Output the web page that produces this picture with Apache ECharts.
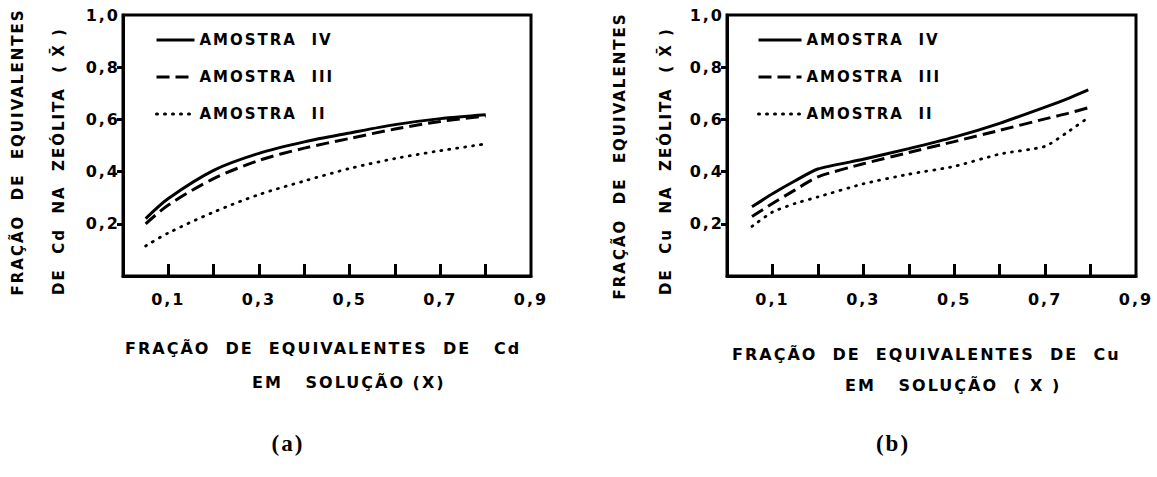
<!DOCTYPE html>
<html>
<head>
<meta charset="utf-8">
<script src="https://cdn.jsdelivr.net/npm/echarts@6/dist/echarts.min.js"></script>
<style>
  html, body { margin: 0; padding: 0; background: #fff; }
  #chart { width: 1157px; height: 477px; }
  #chart text { letter-spacing: 2px; }
</style>
</head>
<body>
<div id="chart"></div>
<script>
// ---------- data ----------
const seriesNames = ['AMOSTRA  IV', 'AMOSTRA  III', 'AMOSTRA  II'];

// (a) Cd
const cdX   = [0.05, 0.10, 0.20, 0.30, 0.40, 0.50, 0.60, 0.70, 0.80];
const cdIV  = [0.220, 0.297, 0.405, 0.470, 0.514, 0.548, 0.580, 0.603, 0.618];
const cdIII = [0.200, 0.272, 0.373, 0.443, 0.490, 0.527, 0.563, 0.592, 0.613];
const cdII  = [0.115, 0.165, 0.245, 0.312, 0.364, 0.412, 0.450, 0.480, 0.506];

// (b) Cu
const cuX   = [0.055, 0.10, 0.15, 0.20, 0.30, 0.40, 0.50, 0.60, 0.70, 0.75, 0.795];
const cuIV  = [0.265, 0.315, 0.365, 0.410, 0.447, 0.488, 0.532, 0.585, 0.647, 0.680, 0.713];
const cuIII = [0.228, 0.278, 0.330, 0.380, 0.430, 0.473, 0.515, 0.558, 0.602, 0.623, 0.645];
const cuII  = [0.190, 0.245, 0.278, 0.303, 0.353, 0.390, 0.420, 0.467, 0.497, 0.552, 0.607];

const xTickValues  = [0.1, 0.2, 0.3, 0.4, 0.5, 0.6, 0.7, 0.8];
const xLabelValues = [0.1, 0.3, 0.5, 0.7, 0.9];
const yTickValues  = [0.2, 0.4, 0.6, 0.8];
const yLabelValues = [0.2, 0.4, 0.6, 0.8, 1.0];

const yTitleA1 = 'FRAÇÃO  DE  EQUIVALENTES';
const yTitleA2 = 'DE  Cd  NA  ZEÓLITA  ( X̄ )';
const yTitleB1 = 'FRAÇÃO  DE  EQUIVALENTES';
const yTitleB2 = 'DE  Cu  NA  ZEÓLITA  ( X̄ )';
const xTitleA1 = 'FRAÇÃO  DE  EQUIVALENTES  DE   Cd';
const xTitleA2 = 'EM   SOLUÇÃO (X)';
const xTitleB1 = 'FRAÇÃO  DE  EQUIVALENTES  DE  Cu';
const xTitleB2 = 'EM   SOLUÇÃO  ( X )';
const captionA = '(a)';
const captionB = '(b)';

// ---------- helpers ----------
const FONT = '"DejaVu Sans", Verdana, sans-serif';
const zip = (xs, ys) => xs.map((x, i) => [x, ys[i]]);
const fmt = v => v.toFixed(1).replace('.', ',');
const lineStyles = [
  { color: '#000', width: 3, type: 'solid' },
  { color: '#000', width: 3, type: [13, 6] },
  { color: '#000', width: 2.8, type: [1, 7], cap: 'round' }
];

function xAxis(gridIndex) {
  return {
    gridIndex, type: 'value', min: 0, max: 0.9, interval: 0.1,
    axisLine: { show: true, lineStyle: { color: '#000', width: 3 } },
    axisTick: { show: true, inside: true, length: 12, customValues: xTickValues,
                lineStyle: { color: '#000', width: 3 } },
    axisLabel: { show: true, margin: 15, customValues: xLabelValues,
                 color: '#000', fontFamily: FONT, fontWeight: 'bold', fontSize: 16,
                 formatter: v => (Math.round(v * 10) % 2 === 1 ? fmt(v) : '') },
    splitLine: { show: false }
  };
}
function yAxis(gridIndex) {
  return {
    gridIndex, type: 'value', min: 0, max: 1, interval: 0.2,
    axisLine: { show: true, lineStyle: { color: '#000', width: 3 } },
    axisTick: { show: true, inside: false, length: 6, customValues: yTickValues,
                lineStyle: { color: '#000', width: 3 } },
    axisLabel: { show: true, margin: 3, customValues: yLabelValues,
                 color: '#000', fontFamily: FONT, fontWeight: 'bold', fontSize: 16,
                 formatter: v => (v === 0 ? '' : fmt(v)) },
    splitLine: { show: false }
  };
}
function makeSeries(idx, xs, ys, name, style, smooth) {
  return {
    type: 'line', name, xAxisIndex: idx, yAxisIndex: idx,
    data: zip(xs, ys), smooth, symbol: 'none', showSymbol: false,
    itemStyle: { color: '#000' },
    lineStyle: style, animation: false, silent: true
  };
}
function legend(left, itemWidth) {
  return {
    data: seriesNames, orient: 'vertical', left, top: 30, padding: 0,
    itemWidth, itemHeight: 14, itemGap: 17, selectedMode: false,
    itemStyle: { opacity: 0 },
    lineStyle: { width: 3 },
    textStyle: { color: '#000', fontFamily: FONT, fontWeight: 'bold', fontSize: 15, lineHeight: 20 }
  };
}
function textEl(text, x, y, opts) {
  opts = opts || {};
  return {
    type: 'text', x, y, rotation: opts.rotation || 0, silent: true,
    style: {
      text, fill: '#000',
      font: opts.font || ('bold 15px ' + FONT),
      align: opts.align || 'left', textAlign: opts.align || 'left',
      verticalAlign: 'middle', textVerticalAlign: 'middle'
    }
  };
}
const TITLE_FONT = 'bold 16px ' + FONT;
const CAP_FONT = 'bold 23px "Liberation Serif", "Times New Roman", serif';

const chart = echarts.init(document.getElementById('chart'), null, { renderer: 'svg' });
chart.setOption({
  animation: false,
  backgroundColor: '#fff',
  grid: [
    { left: 123, top: 15, width: 408, height: 261, show: true, borderColor: '#000', borderWidth: 3, containLabel: false },
    { left: 727, top: 15, width: 409, height: 261, show: true, borderColor: '#000', borderWidth: 3, containLabel: false }
  ],
  xAxis: [xAxis(0), xAxis(1)],
  yAxis: [yAxis(0), yAxis(1)],
  legend: [legend(155, 38), legend(757, 43)],
  series: [
    makeSeries(0, cdX, cdIV,  seriesNames[0], lineStyles[0], 0.3),
    makeSeries(0, cdX, cdIII, seriesNames[1], lineStyles[1], 0.3),
    makeSeries(0, cdX, cdII,  seriesNames[2], lineStyles[2], 0.3),
    makeSeries(1, cuX, cuIV,  seriesNames[0], lineStyles[0], 0.2),
    makeSeries(1, cuX, cuIII, seriesNames[1], lineStyles[1], 0.2),
    makeSeries(1, cuX, cuII,  seriesNames[2], lineStyles[2], 0.2)
  ],
  graphic: [
    textEl(yTitleA1, 18, 152, { rotation: Math.PI / 2, align: 'center' }),
    textEl(yTitleA2, 59, 161, { rotation: Math.PI / 2, align: 'center' }),
    textEl(yTitleB1, 620, 156, { rotation: Math.PI / 2, align: 'center' }),
    textEl(yTitleB2, 666, 161, { rotation: Math.PI / 2, align: 'center' }),
    textEl(xTitleA1, 125, 348, { font: TITLE_FONT }),
    textEl(xTitleA2, 252, 382, { font: TITLE_FONT }),
    textEl(xTitleB1, 732, 354, { font: TITLE_FONT }),
    textEl(xTitleB2, 845, 385, { font: TITLE_FONT }),
    textEl(captionA, 288, 443, { align: 'center', font: CAP_FONT }),
    textEl(captionB, 893, 443, { align: 'center', font: CAP_FONT })
  ]
});
</script>
</body>
</html>
